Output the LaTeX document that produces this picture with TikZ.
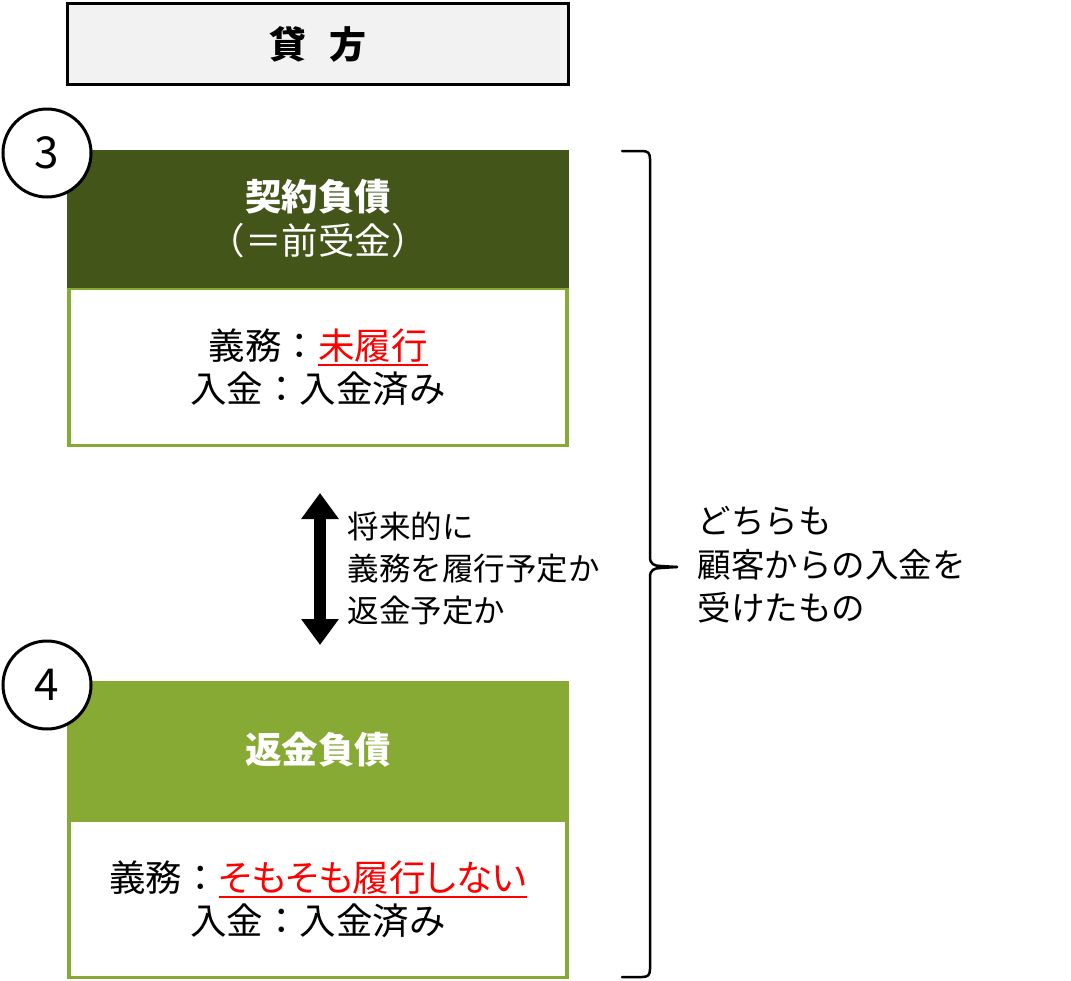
\documentclass[tikz,border=0pt]{standalone}
\usepackage{fontspec}
\setmainfont{Noto Sans CJK JP}
\usepackage{xcolor}
\usepackage{tikz}
\usetikzlibrary{positioning,arrows.meta}

\definecolor{darkgreen}{HTML}{435519}
\definecolor{lightgreen}{HTML}{86AA34}
\definecolor{titlegray}{HTML}{F2F2F2}

\tikzset{
	titlebox/.style={draw, line width=3, fill=titlegray, minimum width=501, minimum height=81, inner sep=0, font=\fontsize{37pt}{40pt}\selectfont\bfseries},
	darkhead/.style={fill=darkgreen, text=white, minimum width=502, minimum height=138, inner sep=0, align=center, font=\fontsize{36.5pt}{44pt}\selectfont},
	lighthead/.style={darkhead, fill=lightgreen},
	bodybox/.style={draw=lightgreen, line width=3.5, fill=white, minimum width=498, minimum height=157, inner sep=0, align=center, font=\fontsize{36.5pt}{43pt}\selectfont},
	numcircle/.style={circle, draw, line width=3, fill=white, minimum size=88, inner sep=0, font=\fontsize{44pt}{44pt}\selectfont},
	dblarrow/.style={line width=12, {Triangle[width=36,length=26]}-{Triangle[width=36,length=26]}},
	bracket/.style={line width=2.5, line cap=round, line join=round}
}
\newcommand{\redund}[1]{\textcolor{red}{\setbox0\hbox{#1}\rlap{\vrule height -5pt depth 7pt width \wd0}\box0}}

\begin{document}
\begin{tikzpicture}[x=1pt,y=-1pt]

\useasboundingbox (0,0) rectangle (1071,980);

% title
\node[titlebox] (kashikata) at (318,44) {貸\hspace{24pt}方};

% contract liability
\node[bodybox] (body3) at (318,367) {義務：\redund{未履行}\\入金：入金済み};
\node[darkhead] (head3) at (318,219) {\textbf{契約負債}\\（＝前受金）};
\node[numcircle] (num3) at (47,153) {3};

% refund liability
\node[bodybox] (body4) at (318,899) {義務：\redund{\addfontfeatures{RawFeature=+palt}そもそも履行しない}\\入金：入金済み};
\node[lighthead] (head4) at (318,750) {\textbf{返金負債}};
\node[numcircle] (num4) at (47,685) {4};

% arrow between
\coordinate (aup) at (320,493);
\coordinate (adown) at (320,645);
\draw[dblarrow] (aup) -- (adown);
\node[anchor=west, align=left, font=\fontsize{31.5pt}{42pt}\selectfont] (note) at (344,569) {将来的に\\義務を履行予定か\\返金予定か};

% brace
\coordinate (btop) at (622,151);
\coordinate (bmid) at (677,567);
\coordinate (bbot) at (622,977);
\draw[bracket] (btop) -- (642,151) .. controls (648,151) and (650,153) .. (650,159) -- (650,557) .. controls (650,564) and (654,566) .. (661,566) -- (bmid);
\draw[bracket] (bmid) -- (661,568) .. controls (654,568) and (650,570) .. (650,577) -- (650,969) .. controls (650,975) and (648,977) .. (642,977) -- (bbot);
\node[anchor=west, align=left, font=\fontsize{33.5pt}{43.5pt}\selectfont] (both) at (694,565) {どちらも\\顧客からの入金を\\受けたもの};

\end{tikzpicture}
\end{document}
